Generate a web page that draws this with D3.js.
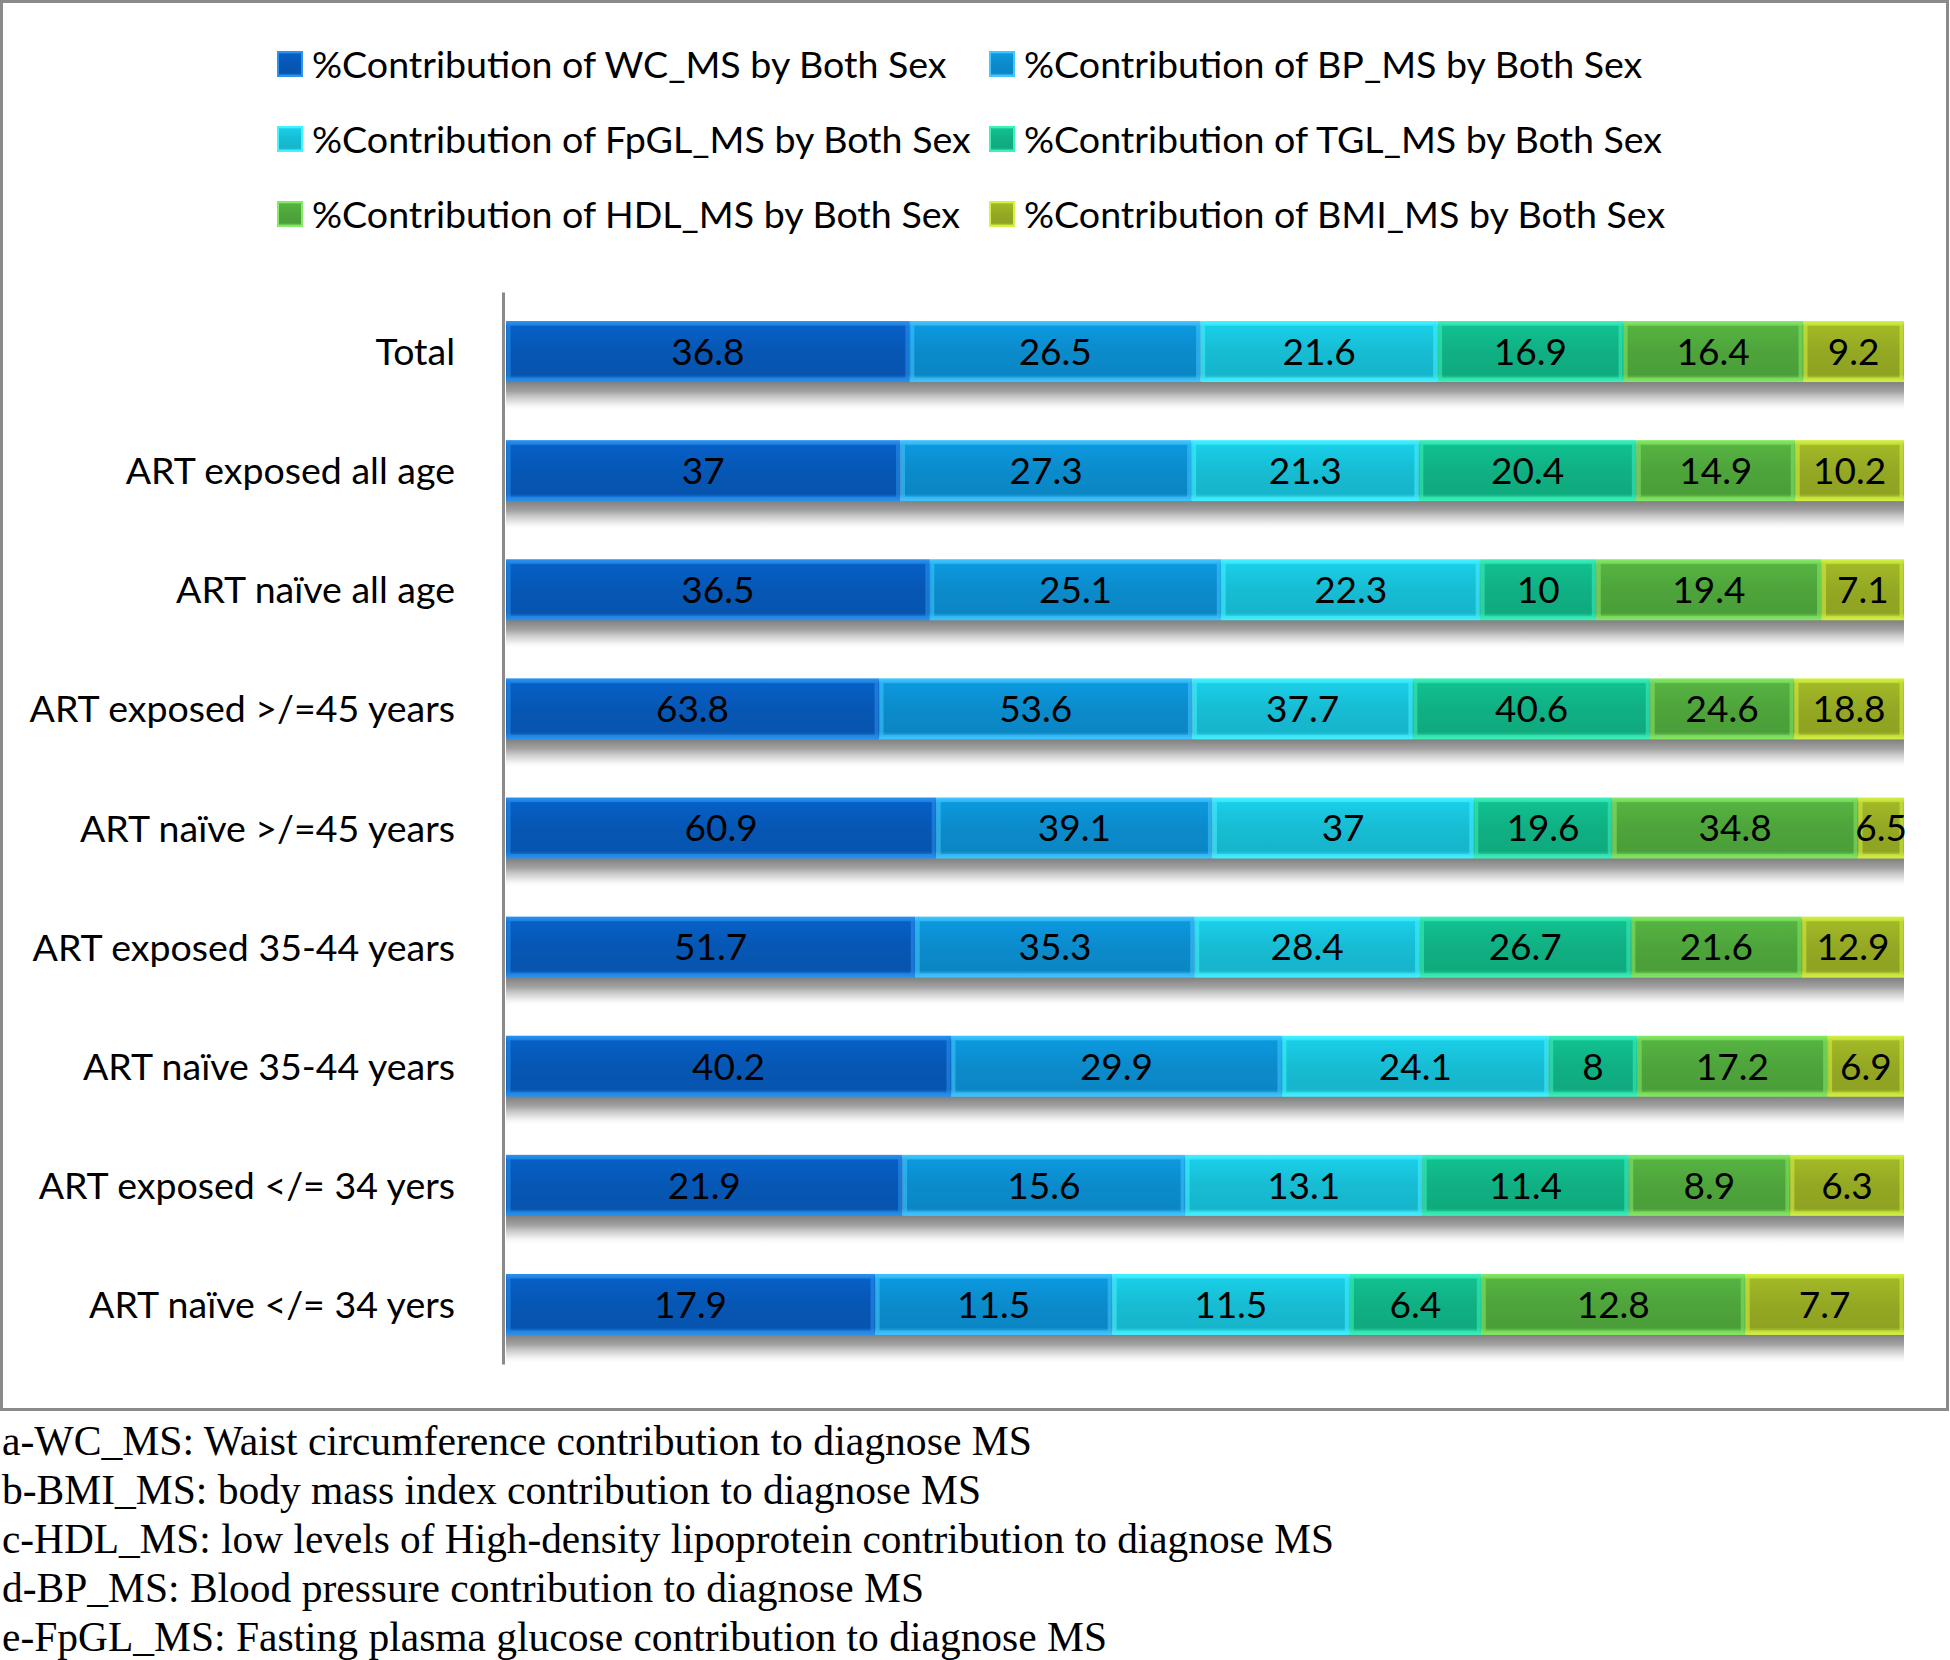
<!DOCTYPE html>
<html>
<head>
<meta charset="utf-8">
<script src="https://cdn.jsdelivr.net/npm/d3@7"></script>
<style>
  html, body { margin: 0; padding: 0; background: #ffffff; }
  svg { display: block; }
</style>
</head>
<body>
<svg id="chart" width="1950" height="1660"></svg>
<script>
// ---------------- DATA ----------------
const categories = [
  "Total",
  "ART exposed all age",
  "ART naïve all age",
  "ART exposed >/=45 years",
  "ART naïve >/=45 years",
  "ART exposed 35-44 years",
  "ART naïve 35-44 years",
  "ART exposed </= 34 yers",
  "ART naïve </= 34 yers"
];
const seriesKeys = ["WC", "BP", "FpGL", "TGL", "HDL", "BMI"];
const seriesNames = [
  "%Contribution of WC_MS by Both Sex",
  "%Contribution of BP_MS by Both Sex",
  "%Contribution of FpGL_MS by Both Sex",
  "%Contribution of TGL_MS by Both Sex",
  "%Contribution of HDL_MS by Both Sex",
  "%Contribution of BMI_MS by Both Sex"
];
const wcValues   = [36.8, 37,   36.5, 63.8, 60.9, 51.7, 40.2, 21.9, 17.9];
const bpValues   = [26.5, 27.3, 25.1, 53.6, 39.1, 35.3, 29.9, 15.6, 11.5];
const fpglValues = [21.6, 21.3, 22.3, 37.7, 37,   28.4, 24.1, 13.1, 11.5];
const tglValues  = [16.9, 20.4, 10,   40.6, 19.6, 26.7, 8,    11.4, 6.4];
const hdlValues  = [16.4, 14.9, 19.4, 24.6, 34.8, 21.6, 17.2, 8.9,  12.8];
const bmiValues  = [9.2,  10.2, 7.1,  18.8, 6.5,  12.9, 6.9,  6.3,  7.7];
const footnotes = [
  "a-WC_MS: Waist circumference contribution to diagnose MS",
  "b-BMI_MS: body mass index contribution to diagnose MS",
  "c-HDL_MS: low levels of High-density lipoprotein contribution to diagnose MS",
  "d-BP_MS: Blood pressure contribution to diagnose MS",
  "e-FpGL_MS: Fasting plasma glucose contribution to diagnose MS"
];

// ---------------- STYLE ----------------
const faceColors = ["#0657b4", "#0b8bcb", "#17bcd3", "#10b083", "#4ea43b", "#94a823"];
const edgeColors = ["#2a93f0", "#42c6ff", "#45f2ff", "#3cf2bb", "#86ea66", "#d4f244"];
const FONT = "Lato, 'Open Sans', sans-serif";

const table = categories.map((c, i) => ({
  cat: c,
  WC: wcValues[i], BP: bpValues[i], FpGL: fpglValues[i],
  TGL: tglValues[i], HDL: hdlValues[i], BMI: bmiValues[i]
}));

const svg = d3.select("#chart");
const defs = svg.append("defs");

// gradients per series
seriesKeys.forEach((k, i) => {
  const g = defs.append("linearGradient").attr("id", "grad-" + k)
    .attr("x1", 0).attr("y1", 0).attr("x2", 0).attr("y2", 1);
  g.append("stop").attr("offset", "0%").attr("stop-color", edgeColors[i]);
  g.append("stop").attr("offset", "9%").attr("stop-color", d3.color(faceColors[i]).brighter(0.25));
  g.append("stop").attr("offset", "50%").attr("stop-color", faceColors[i]);
  g.append("stop").attr("offset", "88%").attr("stop-color", d3.color(faceColors[i]).darker(0.1));
  g.append("stop").attr("offset", "100%").attr("stop-color", edgeColors[i]);
});
const sg = defs.append("linearGradient").attr("id", "shadow")
  .attr("x1", 0).attr("y1", 0).attr("x2", 0).attr("y2", 1);
sg.append("stop").attr("offset", "0%").attr("stop-color", "#7c7c7c").attr("stop-opacity", 1);
sg.append("stop").attr("offset", "35%").attr("stop-color", "#989898").attr("stop-opacity", 0.9);
sg.append("stop").attr("offset", "70%").attr("stop-color", "#cfcfcf").attr("stop-opacity", 0.6);
sg.append("stop").attr("offset", "100%").attr("stop-color", "#ffffff").attr("stop-opacity", 0);

// background + frame
svg.append("rect").attr("x", 0).attr("y", 0).attr("width", 1950).attr("height", 1660).attr("fill", "#fff");
svg.append("rect").attr("x", 1.5).attr("y", 1.5).attr("width", 1946).attr("height", 1408)
  .attr("fill", "#fff").attr("stroke", "#8a8a8a").attr("stroke-width", 3);

// scales
const x = d3.scaleLinear().domain([0, 1]).range([506, 1904]);
const y = d3.scaleBand().domain(categories).range([292, 1364])
  .paddingInner(0.488).paddingOuter(0.244);

const stack = d3.stack().keys(seriesKeys).offset(d3.stackOffsetExpand);
const layers = stack(table);

// shadows
svg.append("g").selectAll("rect").data(categories).join("rect")
  .attr("x", x(0)).attr("width", x(1) - x(0))
  .attr("y", d => y(d) + y.bandwidth() - 1).attr("height", 30)
  .attr("fill", "url(#shadow)");

// bars
const layerG = svg.append("g").selectAll("g").data(layers).join("g");
layerG.each(function (layer, li) {
  const g = d3.select(this);
  const segs = g.selectAll("g.seg").data(layer.map(d => ({ d, key: layer.key, li }))).join("g").attr("class", "seg");
  segs.append("rect")
    .attr("x", s => x(s.d[0])).attr("y", s => y(s.d.data.cat))
    .attr("width", s => x(s.d[1]) - x(s.d[0])).attr("height", y.bandwidth())
    .attr("fill", "url(#grad-" + layer.key + ")");
  segs.append("rect")
    .attr("x", s => x(s.d[0]) + 2.5).attr("y", s => y(s.d.data.cat) + 2.5)
    .attr("width", s => Math.max(0, x(s.d[1]) - x(s.d[0]) - 5)).attr("height", y.bandwidth() - 5)
    .attr("fill", "none").attr("stroke", edgeColors[li]).attr("stroke-width", 4).attr("stroke-opacity", 0.55);
  segs.append("text")
    .attr("x", s => (x(s.d[0]) + x(s.d[1])) / 2)
    .attr("y", s => y(s.d.data.cat) + y.bandwidth() / 2)
    .attr("dy", "0.36em")
    .attr("text-anchor", "middle")
    .attr("font-family", FONT).attr("font-size", 37).attr("fill", "#000")
    .text(s => String(s.d.data[layer.key]));
});

// axis
const axis = svg.append("g").attr("transform", "translate(503,0)")
  .call(d3.axisLeft(y).tickSize(0).tickSizeOuter(0).tickPadding(48));
axis.select(".domain").attr("stroke", "#8a8a8a").attr("stroke-width", 3);
axis.selectAll(".tick text").attr("font-family", FONT).attr("font-size", 37.5).attr("fill", "#000").attr("dy", "0.36em");

// legend
const legendX = [278, 990];
const legendY = [64, 139, 214];
const lg = svg.append("g").selectAll("g").data(seriesNames).join("g")
  .attr("transform", (d, i) => `translate(${legendX[i % 2]},${legendY[Math.floor(i / 2)]})`);
lg.append("rect").attr("x", 0).attr("y", -12).attr("width", 24).attr("height", 24)
  .attr("fill", (d, i) => "url(#grad-" + seriesKeys[i] + ")")
  .attr("stroke", (d, i) => edgeColors[i]).attr("stroke-width", 2);
lg.append("text").attr("x", 34).attr("y", 0).attr("dy", "0.36em")
  .attr("font-family", FONT).attr("font-size", 37.6).attr("fill", "#000")
  .text(d => d);

// footnotes
const footWidths = [1030, 979, 1332, 922, 1105];
svg.append("g").selectAll("text").data(footnotes).join("text")
  .attr("x", 2).attr("y", (d, i) => 1455 + i * 49)
  .attr("font-family", "'Liberation Serif', 'Times New Roman', serif")
  .attr("font-size", 43).attr("fill", "#000")
  .attr("textLength", (d, i) => footWidths[i]).attr("lengthAdjust", "spacingAndGlyphs")
  .text(d => d);
</script>
</body>
</html>
